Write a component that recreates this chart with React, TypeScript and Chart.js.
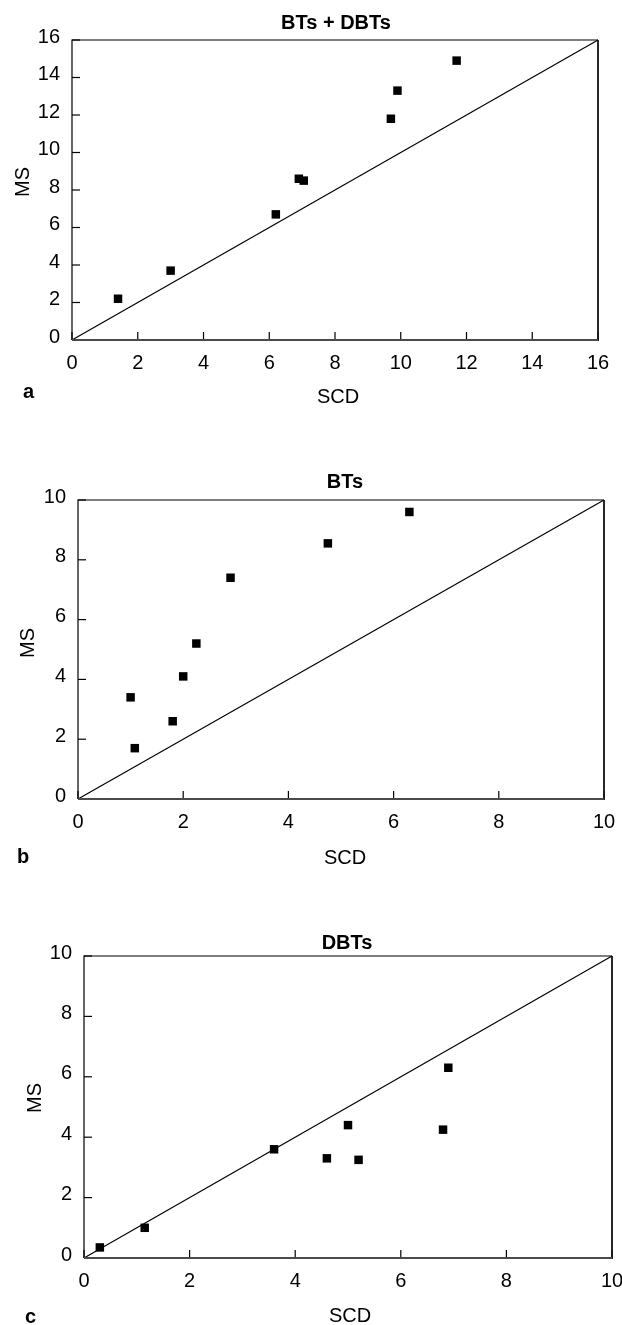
import React, { useEffect, useRef } from 'react';
import { Chart, registerables } from 'chart.js';

Chart.register(...registerables);

const FONT = '"Liberation Sans", Arial, Helvetica, sans-serif';

// ---- Data ----
// Panel a: BTs + DBTs
const scdA = [1.4, 3.0, 6.2, 6.9, 7.05, 9.7, 9.9, 11.7];
const msA = [2.2, 3.7, 6.7, 8.6, 8.5, 11.8, 13.3, 14.9];
const ticksA = [0, 2, 4, 6, 8, 10, 12, 14, 16];

// Panel b: BTs
const scdB = [1.0, 1.08, 1.8, 2.0, 2.25, 2.9, 4.75, 6.3];
const msB = [3.4, 1.7, 2.6, 4.1, 5.2, 7.4, 8.55, 9.6];
const ticksB = [0, 2, 4, 6, 8, 10];

// Panel c: DBTs
const scdC = [0.3, 1.15, 3.6, 4.6, 5.0, 5.2, 6.8, 6.9];
const msC = [0.35, 1.0, 3.6, 3.3, 4.4, 3.25, 4.25, 6.3];
const ticksC = [0, 2, 4, 6, 8, 10];

const panelTitles = ['BTs + DBTs', 'BTs', 'DBTs'];
const panelLetters = ['a', 'b', 'c'];
const xAxisTitle = 'SCD';
const yAxisTitle = 'MS';

// ---- Layout (canvas-relative positions) ----
const layouts = [
  { height: 420, left: 72, right: 598, top: 40, bottom: 340,
    titleX: 336, titleY: 29, xtX: 338, xtY: 403, letX: 23, letY: 398, ytX: 29, ytY: 182 },
  { height: 450, left: 78, right: 604, top: 80, bottom: 379,
    titleX: 345, titleY: 68, xtX: 345, xtY: 444, letX: 17, letY: 443, ytX: 34, ytY: 223 },
  { height: 455, left: 84, right: 612, top: 86, bottom: 388,
    titleX: 347, titleY: 79, xtX: 350, xtY: 452, letX: 25, letY: 453, ytX: 41, ytY: 228 },
];

type PanelProps = { idx: number; xs: number[]; ys: number[]; ticks: number[] };

function Panel({ idx, xs, ys, ticks }: PanelProps) {
  const ref = useRef<HTMLCanvasElement>(null);

  useEffect(() => {
    const lay = layouts[idx];
    const lo = ticks[0];
    const hi = ticks[ticks.length - 1];
    const points = xs.map((x, i) => ({ x, y: ys[i] }));
    const diagonal = [{ x: lo, y: lo }, { x: hi, y: hi }];

    const framePlugin = {
      id: 'frameAndText',
      afterDatasetsDraw(chart: any) {
        const { ctx, chartArea: a, scales } = chart;
        const xs2 = scales.x;
        const ys2 = scales.y;
        ctx.save();
        ctx.strokeStyle = '#000';
        ctx.lineWidth = 1.2;
        ticks.forEach((v) => {
          const py = ys2.getPixelForValue(v);
          ctx.beginPath();
          ctx.moveTo(a.left, py);
          ctx.lineTo(a.left + 8, py);
          ctx.stroke();
          const px = xs2.getPixelForValue(v);
          ctx.beginPath();
          ctx.moveTo(px, a.bottom);
          ctx.lineTo(px, a.bottom - 8);
          ctx.stroke();
        });
        ctx.lineWidth = 1.2;
        ctx.strokeStyle = '#000';
        ctx.beginPath();
        ctx.moveTo(a.left, a.bottom);
        ctx.lineTo(a.left, a.top);
        ctx.lineTo(a.right, a.top);
        ctx.stroke();
        ctx.lineWidth = 1.8;
        ctx.strokeStyle = '#111';
        ctx.beginPath();
        ctx.moveTo(a.right, a.top);
        ctx.lineTo(a.right, a.bottom + 1);
        ctx.stroke();
        ctx.lineWidth = 2;
        ctx.strokeStyle = '#4a4a4a';
        ctx.beginPath();
        ctx.moveTo(a.left, a.bottom);
        ctx.lineTo(a.right, a.bottom);
        ctx.stroke();
        ctx.restore();
      },
      afterDraw(chart: any) {
        const { ctx } = chart;
        ctx.save();
        ctx.fillStyle = '#000';
        ctx.textBaseline = 'alphabetic';
        ctx.font = `bold 20px ${FONT}`;
        ctx.textAlign = 'center';
        ctx.fillText(panelTitles[idx], lay.titleX, lay.titleY);
        ctx.textAlign = 'left';
        ctx.fillText(panelLetters[idx], lay.letX, lay.letY);
        ctx.font = `20px ${FONT}`;
        ctx.textAlign = 'center';
        ctx.fillText(xAxisTitle, lay.xtX, lay.xtY);
        ctx.translate(lay.ytX, lay.ytY);
        ctx.rotate(-Math.PI / 2);
        ctx.fillText(yAxisTitle, 0, 0);
        ctx.restore();
      },
    };

    const chart = new Chart(ref.current as HTMLCanvasElement, {
      type: 'scatter',
      data: {
        datasets: [
          {
            data: points,
            pointStyle: 'rect',
            pointRadius: 6,
            pointHoverRadius: 6,
            backgroundColor: '#000',
            borderColor: '#000',
            borderWidth: 0,
          },
          {
            data: diagonal,
            showLine: true,
            borderColor: '#000',
            borderWidth: 1.2,
            pointRadius: 0,
            pointHoverRadius: 0,
            fill: false,
            clip: false as any,
          } as any,
        ],
      },
      options: {
        responsive: false,
        animation: false,
        events: [],
        layout: { padding: { top: lay.top, right: 622 - lay.right, left: 0, bottom: 0 } },
        plugins: {
          legend: { display: false },
          tooltip: { enabled: false },
          title: { display: false },
        },
        scales: {
          x: {
            type: 'linear',
            min: lo,
            max: hi,
            afterBuildTicks: (s: any) => {
              s.ticks = ticks.map((v) => ({ value: v }));
            },
            grid: { display: false, drawTicks: false },
            border: { display: false },
            ticks: {
              font: { family: FONT, size: 20 },
              color: '#000',
              padding: 11,
              maxRotation: 0,
              autoSkip: false,
            },
            afterFit: (s: any) => {
              s.height = lay.height - lay.bottom;
              s.paddingLeft = 0;
              s.paddingRight = 0;
            },
          },
          y: {
            type: 'linear',
            min: lo,
            max: hi,
            afterBuildTicks: (s: any) => {
              s.ticks = ticks.map((v) => ({ value: v }));
            },
            grid: { display: false, drawTicks: false },
            border: { display: false },
            ticks: {
              font: { family: FONT, size: 20 },
              color: '#000',
              padding: 12,
              labelOffset: -3,
              autoSkip: false,
            },
            afterFit: (s: any) => {
              s.width = lay.left;
              s.paddingTop = 0;
              s.paddingBottom = 0;
            },
          },
        },
      } as any,
      plugins: [framePlugin],
    });
    return () => chart.destroy();
  }, [idx, xs, ys, ticks]);

  return (
    <canvas
      ref={ref}
      width={622}
      height={layouts[idx].height}
      style={{ display: 'block', width: 622, height: layouts[idx].height }}
    />
  );
}

export default function App() {
  return (
    <div style={{ position: 'absolute', left: 0, top: 0, width: 622, height: 1325, background: '#fff' }}>
      <Panel idx={0} xs={scdA} ys={msA} ticks={ticksA} />
      <Panel idx={1} xs={scdB} ys={msB} ticks={ticksB} />
      <Panel idx={2} xs={scdC} ys={msC} ticks={ticksC} />
    </div>
  );
}
